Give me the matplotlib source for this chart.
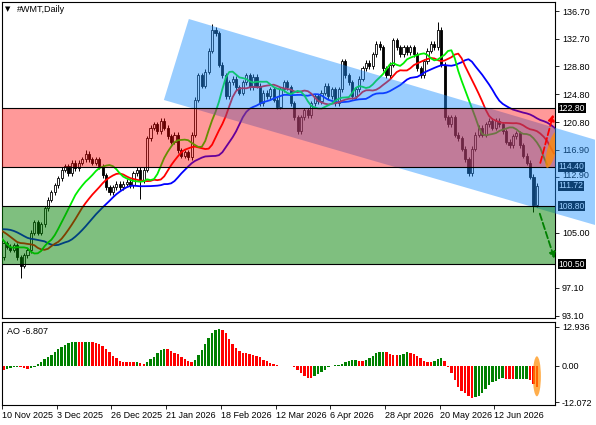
# Wykres WMT (dzienny) ze świecami, Alligatorem i oscylatorem AO
import numpy as np
import pandas as pd
import matplotlib
matplotlib.use("Agg")
import matplotlib.pyplot as plt
from matplotlib.patches import Polygon, Ellipse
from matplotlib.transforms import IdentityTransform, ScaledTranslation

plt.rcParams['font.family'] = ['Liberation Sans', 'DejaVu Sans']

warmup_closes = [105.5, 105.0, 104.0, 103.0, 102.0, 101.5, 101.0, 101.5]

# Ceny zamknięcia kolejnych świec
closes = [
    103.5, 103.0, 102.6, 103.2, 101.5, 100.3, 101.8, 102.5, 105.0, 106.5,
    105.0, 106.2, 108.5, 109.7, 110.8, 111.8, 112.8, 114.0, 114.5, 113.5,
    115.0, 114.2, 115.0, 115.5, 116.3, 115.5, 115.0, 115.5, 114.5, 113.2,
    111.5, 110.8, 111.5, 112.0, 111.5, 112.0, 112.3, 111.8, 113.5, 114.0,
    112.5, 114.0, 118.5, 120.0, 120.5, 119.5, 121.0, 120.0, 118.8, 118.0,
    119.0, 116.8, 116.0, 116.5, 115.8, 119.0, 124.0, 127.5, 126.0, 128.0,
    131.0, 134.0, 133.5, 129.0, 127.5, 124.5, 126.5, 127.0, 125.8, 125.0,
    126.5, 127.5, 125.8, 127.3, 126.0, 123.5, 125.0, 124.5, 125.5, 124.0,
    123.0, 125.5, 126.5, 125.8, 123.5, 121.5, 119.5, 121.5, 122.5, 121.8,
    123.5, 124.5, 123.8, 125.0, 126.0, 124.5, 125.5, 123.5, 125.5, 129.5,
    127.5, 126.5, 124.5, 125.5, 127.0, 128.5, 129.3, 128.8, 130.5, 132.0,
    131.5, 128.5, 127.5, 129.0, 132.5, 131.5, 130.5, 131.5, 130.8, 131.5,
    130.5, 128.5, 127.5, 129.5, 131.0, 132.0, 131.5, 134.0, 129.0, 121.5,
    120.5, 121.5, 119.0, 118.5, 117.0, 115.5, 113.5, 117.0, 119.0, 120.0,
    119.0, 120.5, 121.0, 120.0, 121.0, 120.5, 119.5, 118.0, 117.5, 118.8,
    119.2, 117.5, 116.0, 115.0, 113.0, 109.0, 111.72,
]
# Wyraźnie dłuższe knoty
spike_lows = {5: 98.6, 40: 109.8, 155: 107.9}
spike_highs = {24: 116.9, 61: 134.9, 127: 135.2}

date_labels = ['10 Nov 2025', '3 Dec 2025', '26 Dec 2025', '21 Jan 2026', '18 Feb 2026',
               '12 Mar 2026', '6 Apr 2026', '28 Apr 2026', '20 May 2026', '12 Jun 2026']
date_bars = [0, 16, 32, 48, 64, 80, 96, 112, 128, 144]

price_ticks = [136.70, 132.70, 128.80, 124.80, 120.80, 116.90, 112.90, 105.00, 97.10, 93.10]
ao_ticks = [12.936, 0.0, -12.072]
ao_last = -6.807

# Strefy i etykiety cenowe
red_zone = (114.40, 122.80)
green_zone = (100.50, 108.80)
tag_prices = [122.80, 114.40, 111.72, 108.80, 100.50]

# Kanał spadkowy (punkty: numer świecy, cena)
channel = [(54.2, 135.56), (46.9, 123.98), (173.0, 106.11), (173.0, 118.30)]

# --- dane świec ---
c = np.array(warmup_closes + closes)
n_warm = len(warmup_closes)
o = np.r_[c[0], c[:-1]]
hi = np.maximum(o, c) + 0.35
lo = np.minimum(o, c) - 0.35
for k, v in spike_lows.items():
    lo[k + n_warm] = v
for k, v in spike_highs.items():
    hi[k + n_warm] = v
idx = np.arange(len(c)) - n_warm
med = pd.Series((hi + lo) / 2)

# Alligator: SMMA z ceny mediany, przesunięte w prawo
jaw = med.ewm(alpha=1 / 13, adjust=False).mean().values
teeth = med.ewm(alpha=1 / 8, adjust=False).mean().values
lips = med.ewm(alpha=1 / 5, adjust=False).mean().values

# Awesome Oscillator
ao = (med.rolling(5, min_periods=1).mean() - med.rolling(34, min_periods=1).mean()).values

W, H = 596, 425
fig = plt.figure(figsize=(W / 100, H / 100), dpi=100)


def px_rect(x0, y0, x1, y1):
    return [x0 / W, 1 - y1 / H, (x1 - x0) / W, (y1 - y0) / H]


ax = fig.add_axes(px_rect(2, 2, 555, 318))
ao_ax = fig.add_axes(px_rect(2, 322, 555, 405))

x_left, x_right = -0.45, 161.3
ax.set_xlim(x_left, x_right)
ax.set_ylim(92.81, 137.99)
ao_ax.set_xlim(x_left, x_right)
ao_ax.set_ylim(-13.07, 14.6)

vis = idx >= 0
xv = idx[vis]
ov, cv, hv, lv = o[vis], c[vis], hi[vis], lo[vis]
up = cv >= ov

# Świece
ax.vlines(xv, lv, hv, color='black', lw=0.7, zorder=2)
body = np.maximum(np.abs(cv - ov), 0.08)
ax.bar(xv[up], body[up], bottom=np.minimum(ov, cv)[up], width=0.62,
       color='white', edgecolor='black', lw=0.6, zorder=2.1)
ax.bar(xv[~up], body[~up], bottom=np.minimum(ov, cv)[~up], width=0.62,
       color='black', edgecolor='black', lw=0.6, zorder=2.1)

# Linie Alligatora
ax.plot(idx + 8, jaw, color='#0000ff', lw=1.3, zorder=3)
ax.plot(idx + 5, teeth, color='#ff0000', lw=1.3, zorder=3)
ax.plot(idx + 3, lips, color='#00ee00', lw=1.3, zorder=3)

# Etykiety poziomów po prawej (czarne tło)
for p in tag_prices:
    ax.text(1.0065, p, f'{p:.2f}', transform=ax.get_yaxis_transform(), color='white',
            fontsize=6.2, va='center', ha='left', zorder=3.5, clip_on=False,
            bbox=dict(facecolor='black', edgecolor='none', pad=0.3))

# Kanał (wychodzi poza oś cenową)
ax.add_patch(Polygon(channel, closed=True, facecolor='#1e90ff', alpha=0.45,
                     edgecolor='none', zorder=4, clip_on=False))

# Strefy
ax.axhspan(*red_zone, color='#ff0000', alpha=0.4, lw=0, zorder=5)
ax.axhspan(*green_zone, color='#008000', alpha=0.5, lw=0, zorder=5)
for p in [red_zone[0], red_zone[1], green_zone[0], green_zone[1]]:
    ax.axhline(p, color='black', lw=0.8, zorder=6)

# Scenariusze: strzałki i pomarańczowy znacznik
ax.annotate('', xy=(161.0, 122.3), xytext=(156.8, 114.6),
            arrowprops=dict(arrowstyle='-|>', color='#ff0000', lw=1.3, linestyle='--',
                            mutation_scale=9), zorder=7, annotation_clip=False)
ax.annotate('', xy=(161.4, 100.9), xytext=(156.6, 108.1),
            arrowprops=dict(arrowstyle='-|>', color='#008000', lw=1.3, linestyle='--',
                            mutation_scale=9), zorder=7, annotation_clip=False)
ex, ey = ax.transData.transform((160.4, 116.9))
ax.add_artist(Ellipse((ex, ey), 9, 38, angle=-15, transform=IdentityTransform(),
                      facecolor='#ff8c00', alpha=0.75, edgecolor='none', zorder=6.5))

# Oscylator AO
ao_v = ao[vis]
prev = np.r_[ao[n_warm - 1], ao_v[:-1]]
ao_colors = np.where(ao_v > prev, '#008000', '#ff0000')
ao_ax.bar(xv, ao_v, width=0.7, color=ao_colors, lw=0)
ax2x, ax2y = ao_ax.transData.transform((156, -3.5))
ao_ax.add_artist(Ellipse((ax2x, ax2y), 8, 40, transform=IdentityTransform(),
                         facecolor='#ff8c00', alpha=0.7, edgecolor='none', zorder=4))

# Osie
for a in (ax, ao_ax):
    for s in a.spines.values():
        s.set_linewidth(0.8)
        s.set_color('black')
    a.yaxis.tick_right()
    a.tick_params(axis='y', direction='out', length=3, width=0.6, pad=2, labelsize=6.5)

ax.set_yticks(price_ticks)
ax.set_yticklabels([f'{p:.2f}' for p in price_ticks])
ax.set_xticks([])
# etykieta 112.90 leży tuż nad znacznikiem 111.72 - lekko ją podnosimy
lab = ax.yaxis.get_major_ticks()[price_ticks.index(112.90)].label2
lab.set_transform(lab.get_transform() + ScaledTranslation(0, 2.5 / 100, fig.dpi_scale_trans))

ao_ax.set_yticks(ao_ticks)
ao_ax.set_yticklabels(['12.936', '0.00', '-12.072'])
ao_ax.set_xticks(np.array(date_bars) - 0.45)
ao_ax.set_xticklabels(date_labels, ha='left')
ao_ax.tick_params(axis='x', direction='out', length=3, width=0.6, pad=1.5, labelsize=6.5)

# Podpisy
fig.text(5 / W, 1 - 9 / H, '▼', fontsize=5, va='center', ha='left', family=['DejaVu Sans'])
fig.text(17 / W, 1 - 9 / H, '#WMT,Daily', fontsize=6.5, va='center', ha='left')
fig.text(7 / W, 1 - 331 / H, f'AO {ao_last:.3f}', fontsize=6.5, va='center', ha='left')

fig.savefig('out.png', dpi=100)
